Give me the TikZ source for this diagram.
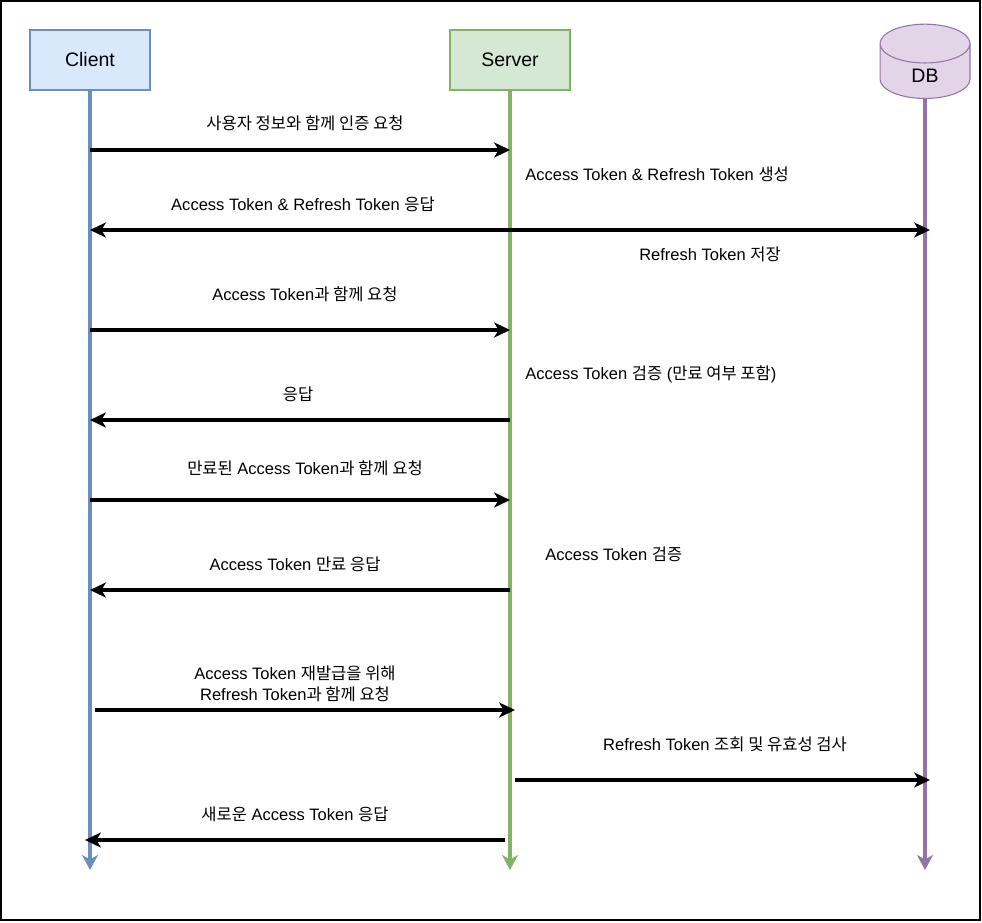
\documentclass[tikz,border=0pt]{standalone}
\usepackage{fontspec}
\setmainfont{Liberation Sans}
\newfontfamily\kofont{Noto Sans CJK KR}
\newcommand{\ko}[1]{{\kofont #1}}
\usetikzlibrary{positioning, arrows.meta, shapes.geometric}
\definecolor{clientfill}{HTML}{DAE8FC}
\definecolor{clientline}{HTML}{6C8EBF}
\definecolor{serverfill}{HTML}{D5E8D4}
\definecolor{serverline}{HTML}{82B366}
\definecolor{dbfill}{HTML}{E1D5E7}
\definecolor{dbline}{HTML}{9673A6}

\begin{document}
\begin{tikzpicture}[
    x=0.02cm, y=-0.02cm, % one unit = one pixel of the sketch
    actor/.style={
        rectangle,
        draw=#1line,
        fill=#1fill,
        minimum width=2.4cm,
        minimum height=1.2cm,
        line width=0.6pt,
        font=\fontsize{11.1}{13}\selectfont
    },
    lifeline/.style={
        draw=#1line,
        line width=1.8pt,
        -{Stealth[length=8.5pt, width=9pt, inset=2.5pt]}
    },
    msg/.style={
        line width=1.8pt,
        -{Stealth[length=9pt, width=8.5pt, inset=2.5pt]}
    },
    twoway/.style={
        msg,
        {Stealth[length=9pt, width=8.5pt, inset=2.5pt]}-{Stealth[length=9pt, width=8.5pt, inset=2.5pt]}
    },
    lbl/.style={
        font=\fontsize{9.4}{11.9}\selectfont,
        inner sep=0pt,
        align=center
    },
    note/.style={lbl, anchor=west}
]
\useasboundingbox (0,0) rectangle (982,922);
\draw[line width=0.8pt] (1,1) rectangle (980,920);

% Participants
\node[actor=client] (client) at (90,60) {Client};
\node[actor=server] (server) at (510,60) {Server};
\node[cylinder, shape border rotate=90, aspect=1.0, anchor=south,
      draw=dbline, fill=dbfill, line width=0.6pt,
      minimum width=1.8cm, minimum height=1.48cm,
      font=\fontsize{11.1}{13}\selectfont] (db) at (925,99) {\raisebox{-1.5pt}{DB}};

% Lifelines
\coordinate (clientend) at (90,870);
\coordinate (serverend) at (510,870);
\coordinate (dbend) at (925,870);
\draw[lifeline=client] (client) -- (clientend);
\draw[lifeline=server] (server) -- (serverend);
\draw[lifeline=db] (db) -- (dbend);

% Login
\node[lbl] (m1) at (305,123) {\ko{사용자 정보와 함께 인증 요청}};
\draw[msg] (client |- 0,150) -- (server |- 0,150);
\node[note] (n1) at (525,174) {Access Token \& Refresh Token \ko{생성}};
\node[lbl] (m2) at (303,204) {Access Token \& Refresh Token \ko{응답}};
\draw[twoway] (client |- 0,230) -- ([xshift=0.1cm]db |- 0,230);
\node[lbl] (n2) at (710,254) {Refresh Token \ko{저장}};

% Normal request
\node[lbl] (m3) at (305,294) {Access Token\ko{과 함께 요청}};
\draw[msg] (client |- 0,330) -- (server |- 0,330);
\node[note] (n3) at (525,374) {Access Token \ko{검증} (\ko{만료 여부 포함})};
\node[lbl] (m4) at (298,394) {\ko{응답}};
\draw[msg] (server |- 0,420) -- (client |- 0,420);

% Expired token
\node[lbl] (m5) at (305,468) {\ko{만료된} Access Token\ko{과 함께 요청}};
\draw[msg] (client |- 0,500) -- (server |- 0,500);
\node[note] (n4) at (545,554) {Access Token \ko{검증}};
\node[lbl] (m6) at (295,564) {Access Token \ko{만료 응답}};
\draw[msg] (server |- 0,590) -- (client |- 0,590);

% Reissue
\node[lbl] (m7) at (295,684) {Access Token \ko{재발급을 위해}\\Refresh Token\ko{과 함께 요청}};
\draw[msg] ([xshift=0.1cm]client |- 0,710) -- ([xshift=0.1cm]server |- 0,710);
\node[lbl] (m8) at (725,744) {Refresh Token \ko{조회 및 유효성 검사}};
\draw[msg] ([xshift=0.1cm]server |- 0,780) -- ([xshift=0.1cm]db |- 0,780);
\node[lbl] (m9) at (295,814) {\ko{새로운} Access Token \ko{응답}};
\draw[msg] ([xshift=-0.1cm]server |- 0,840) -- ([xshift=-0.1cm]client |- 0,840);

\end{tikzpicture}
\end{document}
